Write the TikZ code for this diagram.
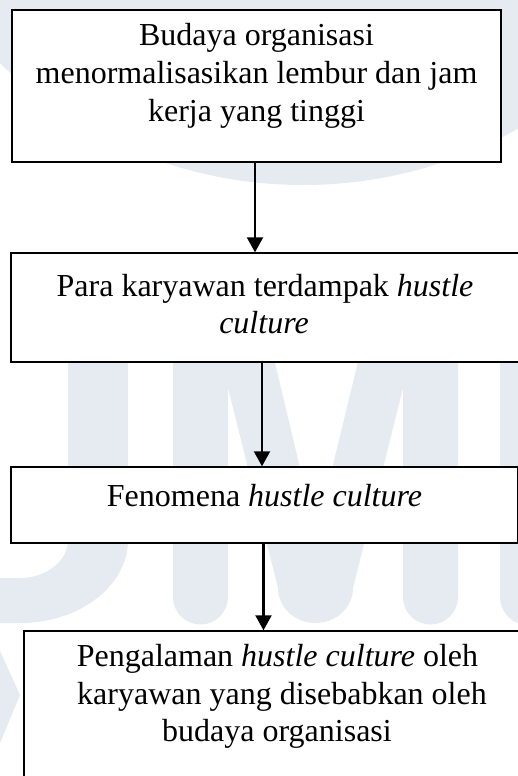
\documentclass[tikz,border=0pt]{standalone}
\usepackage{fontspec}
\setmainfont{Liberation Serif}
\usetikzlibrary{arrows.meta}
\definecolor{wm}{HTML}{E6EBF1}
\tikzset{
  box/.style={draw=black, line width=1.4pt, fill=white, rectangle, inner sep=0pt, outer sep=0pt},
  txt/.style={anchor=base, inner sep=0pt, font=\fontsize{32}{38}\selectfont},
  arr/.style={line width=2.2pt, -{Triangle[length=15pt,width=16pt]}, shorten >=0.7pt},
  wmark/.style={fill=wm, draw=none}
}
\begin{document}
\begin{tikzpicture}[x=1pt,y=-1pt]
\useasboundingbox (0,0) rectangle (518,776);
\clip (0,0) rectangle (518,776);
\fill[white] (0,0) rectangle (518,776);
% faint watermark
\fill[wmark] (303,-253) circle (438);
\fill[wmark] (68,300) -- (128,300) -- (128,540)
  arc[start angle=0, end angle=90, x radius=108, y radius=83]
  -- (-5,623) -- (-5,578) -- (20,578)
  arc[start angle=90, end angle=0, x radius=48, y radius=38] -- cycle;
\fill[wmark] (173,300) -- (228,300) -- (228,597)
  arc[start angle=0, end angle=180, radius=27.5] -- cycle;
\fill[wmark] (403,300) -- (458,300) -- (458,597)
  arc[start angle=0, end angle=180, radius=27.5] -- cycle;
\fill[wmark] (206,300) -- (260,300) -- (316,535) -- (373,300) -- (425,300)
  -- (353,588) arc[start angle=0, end angle=180, x radius=37.5, y radius=35] -- cycle;
\fill[wmark] (500,300) -- (556,300) -- (556,597)
  arc[start angle=0, end angle=180, radius=28] -- cycle;
\fill[wmark] (-5,640) -- (20,695) -- (-5,755) -- cycle;
% boxes
\node[box, minimum width=489pt, minimum height=152pt] (b1) at (256.5,86) {};
\node[box, minimum width=508pt, minimum height=109pt] (b2) at (265,307.5) {};
\node[box, minimum width=507pt, minimum height=76pt] (b3) at (264.5,505) {};
\node[box, minimum width=510pt, minimum height=159pt] (b4) at (279,710.5) {};
% texts
\node[txt] (t1a) at (256.5,45.7) {Budaya organisasi};
\node[txt] (t1b) at (256.5,84) {menormalisasikan lembur dan jam};
\node[txt] (t1c) at (256.5,121.7) {kerja yang tinggi};
\node[txt] (t2a) at (265,296) {Para karyawan terdampak \textit{hustle}};
\node[txt] (t2b) at (264,333) {\textit{culture}};
\node[txt] (t3a) at (264.5,506.7) {Fenomena \textit{hustle culture}};
\node[txt] (t4a) at (277.5,666.7) {Pengalaman \textit{hustle culture} oleh};
\node[txt] (t4b) at (282,704) {karyawan yang disebabkan oleh};
\node[txt] (t4c) at (277,741.7) {budaya organisasi};
% arrows
\draw[arr] (b1.south -| 255,0) -- (b2.north -| 255,0);
\draw[arr] (b2.south -| 262,0) -- (b3.north -| 262,0);
\draw[arr] (b3.south -| 263.5,0) -- (b4.north -| 263.5,0);
\end{tikzpicture}
\end{document}
